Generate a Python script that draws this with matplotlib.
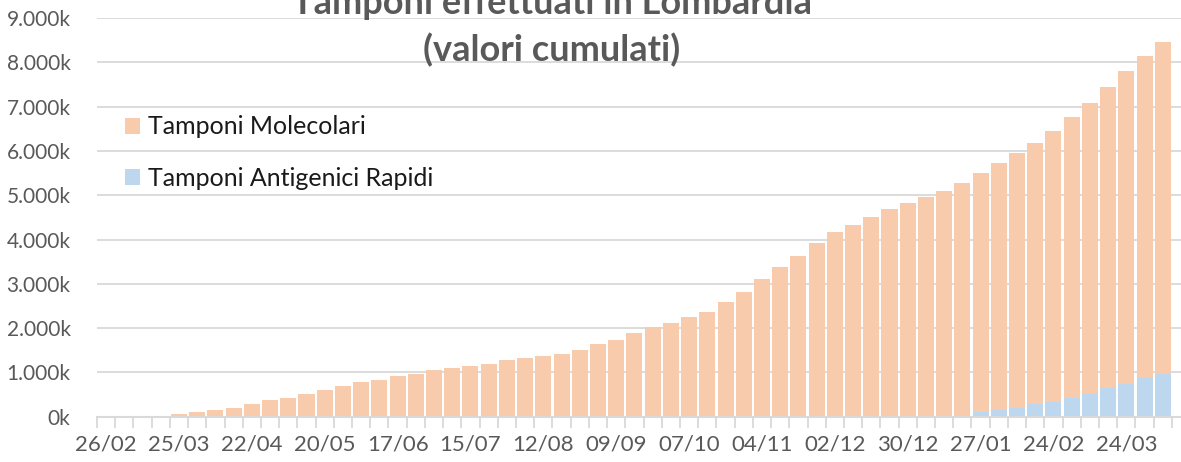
import numpy as np
import matplotlib.pyplot as plt
from matplotlib.ticker import FuncFormatter

# Totali cumulati settimanali (migliaia), 26/02/2020 -> 07/04/2021
totale = [0, 0, 0, 0, 60, 106, 150, 197, 288, 379,
          424, 515, 606, 697, 788, 833, 924, 970, 1061, 1106,
          1152, 1197, 1288, 1333, 1379, 1424, 1515, 1651, 1742, 1879,
          2015, 2106, 2242, 2371, 2598, 2826, 3098, 3371, 3636, 3917,
          4160, 4330, 4504, 4684, 4820, 4955, 5090, 5271, 5496, 5722,
          5947, 6173, 6444, 6759, 7075, 7436, 7797, 8143, 8459]
# Tamponi antigenici rapidi (migliaia)
antigenici = [0] * 48 + [105, 150, 195, 286, 331, 421, 511, 647, 737, 872, 962]
molecolari = [t - a for t, a in zip(totale, antigenici)]

etichette = ['26/02', '25/03', '22/04', '20/05', '17/06', '15/07', '12/08',
             '09/09', '07/10', '04/11', '02/12', '30/12', '27/01', '24/02', '24/03']

col_mol = '#F8CBAD'
col_ant = '#BDD7EE'
grigio = '#595959'
griglia = '#D9D9D9'

plt.rcParams['font.family'] = ['Lato', 'DejaVu Sans']

fig = plt.figure(figsize=(11.81, 4.62), dpi=100)
ax = fig.add_axes([97 / 1181, 45.3 / 462, 1 - 97 / 1181, (416.7 - 18) / 462])

x = np.arange(len(totale))
ax.bar(x, antigenici, width=0.88, color=col_ant, label='Tamponi Antigenici Rapidi', zorder=2)
ax.bar(x, molecolari, width=0.88, bottom=antigenici, color=col_mol, label='Tamponi Molecolari', zorder=2)

ax.set_ylim(0, 9000)
ax.set_xlim(-0.5, len(totale) - 0.5 + 0.5)
ax.set_yticks(np.arange(0, 9001, 1000))
ax.yaxis.set_major_formatter(FuncFormatter(lambda v, p: f'{int(v):,}k'.replace(',', '.')))
ax.grid(axis='y', color=griglia, linewidth=1.3, zorder=0)
ax.tick_params(axis='y', length=0, pad=19, labelsize=15, labelcolor=grigio)

# tacche tra le categorie, etichette ogni 4 settimane
ax.set_xticks(np.arange(-0.5, len(totale), 1))
ax.set_xticklabels([])
ax.set_xticks(np.arange(0, len(totale), 4), minor=True)
ax.set_xticklabels(etichette, minor=True)
ax.tick_params(axis='x', which='major', length=8, width=1.3, color=griglia)
ax.tick_params(axis='x', which='minor', length=0, pad=13, labelsize=16, labelcolor=grigio)

for s in ['top', 'right', 'left']:
    ax.spines[s].set_visible(False)
ax.spines['bottom'].set_color(griglia)
ax.spines['bottom'].set_linewidth(1.5)

fig.text(552 / 1181, 1 - 3 / 462, 'Tamponi effettuati in Lombardia', ha='center', va='center',
         fontsize=26, fontweight='bold', color=grigio)
fig.text(552 / 1181, 1 - 50 / 462, '(valori cumulati)', ha='center', va='center',
         fontsize=26, fontweight='bold', color=grigio)

h, l = ax.get_legend_handles_labels()
ax.legend(h[::-1], l[::-1], loc='upper left', bbox_to_anchor=(0.0055, 0.812), frameon=False,
          fontsize=18, handlelength=0.6, handleheight=0.6, handletextpad=0.3,
          labelspacing=1.15, labelcolor='#1a1a1a')

fig.savefig('out.png', dpi=100)
